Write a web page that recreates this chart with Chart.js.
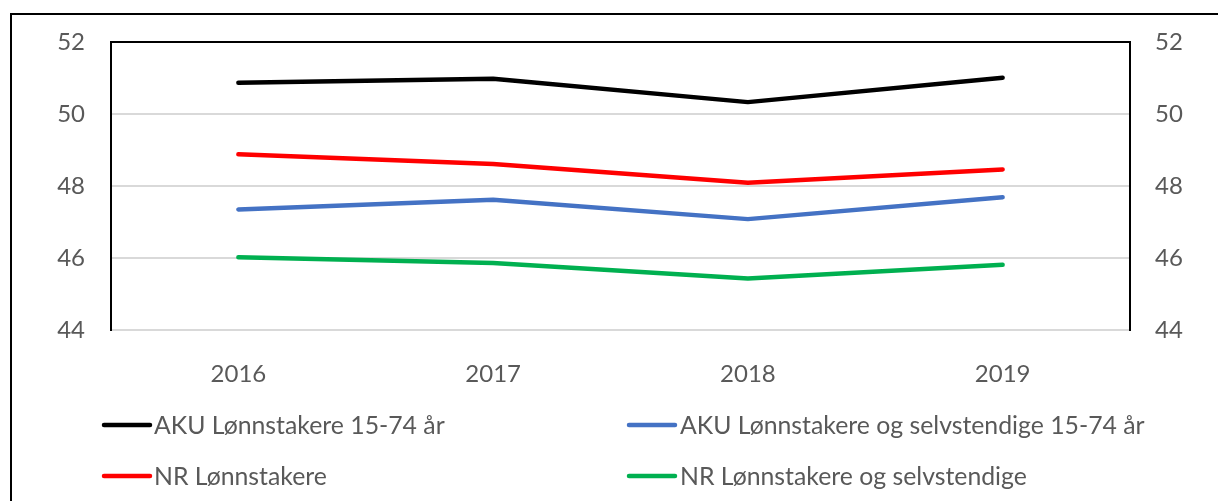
<!DOCTYPE html>
<html>
<head>
<meta charset="utf-8">
<script src="https://cdn.jsdelivr.net/npm/chart.js@4"></script>
<style>
html,body{margin:0;padding:0;background:#fff;}
canvas{display:block;}
</style>
</head>
<body>
<canvas id="c" width="1218" height="501"></canvas>
<script>
const categories = ["2016", "2017", "2018", "2019"];
const akuLonnstakere = [50.87, 50.98, 50.33, 51.01];
const akuLonnSelv = [47.35, 47.62, 47.08, 47.69];
const nrLonnstakere = [48.88, 48.61, 48.09, 48.46];
const nrLonnSelv = [46.02, 45.86, 45.43, 45.81];
const seriesLabels = [
  "AKU Lønnstakere 15-74 år",
  "AKU Lønnstakere og selvstendige 15-74 år",
  "NR Lønnstakere",
  "NR Lønnstakere og selvstendige"
];
const yTicks = [44, 46, 48, 50, 52];

const FONT = "Lato, 'Liberation Sans', sans-serif";
const TEXT = "#595959";

const frame = {
  id: 'frame',
  afterDraw(chart) {
    const ctx = chart.ctx;
    ctx.save();
    ctx.strokeStyle = '#000';
    ctx.lineWidth = 2;
    ctx.beginPath();
    ctx.moveTo(11, 501);
    ctx.lineTo(11, 14);
    ctx.lineTo(1218, 14);
    ctx.stroke();
    ctx.restore();
  }
};

const customLegend = {
  id: 'customLegend',
  afterDraw(chart) {
    const ctx = chart.ctx;
    const cols = [{ls: 104, le: 150, tx: 154}, {ls: 629, le: 675, tx: 680}];
    const rows = [425, 476];
    ctx.save();
    ctx.font = "24.8px " + FONT;
    ctx.textBaseline = 'middle';
    ctx.textAlign = 'left';
    chart.data.datasets.forEach((ds, i) => {
      const c = cols[i % 2], y = rows[Math.floor(i / 2)];
      ctx.strokeStyle = ds.borderColor;
      ctx.lineWidth = 4.5;
      ctx.lineCap = 'round';
      ctx.beginPath();
      ctx.moveTo(c.ls, y);
      ctx.lineTo(c.le, y);
      ctx.stroke();
      ctx.fillStyle = TEXT;
      ctx.fillText(ds.label, c.tx, y + 1);
    });
    ctx.restore();
  }
};

const mk = (label, data, color) => ({
  label, data, borderColor: color, backgroundColor: color,
  borderWidth: 4.5, pointRadius: 0, tension: 0,
  borderCapStyle: 'round', borderJoinStyle: 'round', fill: false
});

new Chart(document.getElementById('c'), {
  type: 'line',
  data: {
    labels: categories,
    datasets: [
      mk(seriesLabels[0], akuLonnstakere, '#000000'),
      mk(seriesLabels[1], akuLonnSelv, '#4472C4'),
      mk(seriesLabels[2], nrLonnstakere, '#FF0000'),
      mk(seriesLabels[3], nrLonnSelv, '#00B050')
    ]
  },
  options: {
    responsive: false,
    animation: false,
    layout: {padding: {left: 0, right: 0, top: 42, bottom: 0}},
    plugins: {legend: {display: false}, tooltip: {enabled: false}},
    scales: {
      x: {
        offset: true,
        grid: {display: false},
        border: {display: false},
        ticks: {color: TEXT, font: {family: FONT, size: 24}, padding: 22, maxRotation: 0},
        afterFit(s) { s.height = 171; }
      },
      y: {
        position: 'left',
        min: 44, max: 52,
        afterBuildTicks(s) { s.ticks = yTicks.map(v => ({value: v})); },
        grid: {
          drawTicks: false,
          color: ctx => (ctx.tick && ctx.tick.value === 52) ? '#000000' : '#D9D9D9',
          lineWidth: 2
        },
        border: {display: true, color: '#000', width: 2},
        ticks: {color: TEXT, font: {family: FONT, size: 24}, padding: 26},
        afterFit(s) { s.width = 111; }
      },
      y2: {
        position: 'right',
        min: 44, max: 52,
        afterBuildTicks(s) { s.ticks = yTicks.map(v => ({value: v})); },
        grid: {drawOnChartArea: false, drawTicks: false},
        border: {display: true, color: '#000', width: 2},
        ticks: {color: TEXT, font: {family: FONT, size: 24}, padding: 25},
        afterFit(s) { s.width = 88; }
      }
    }
  },
  plugins: [frame, customLegend]
});
</script>
</body>
</html>
